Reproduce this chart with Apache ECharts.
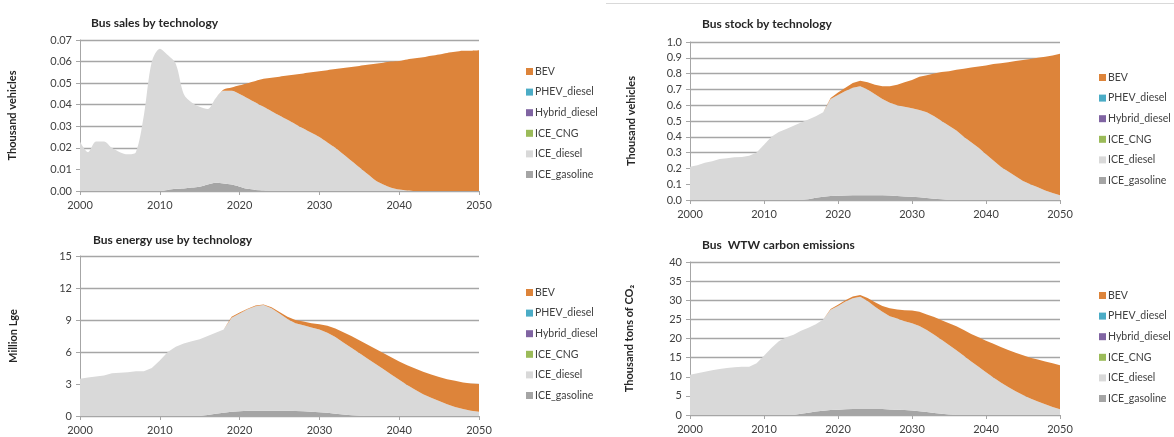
<!DOCTYPE html>
<html>
<head>
<meta charset="utf-8">
<script src="https://cdn.jsdelivr.net/npm/echarts@6/dist/echarts.min.js"></script>
<style>
  html, body { margin: 0; padding: 0; background: #fff; }
  #main { width: 1174px; height: 437px; }
</style>
</head>
<body>
<div id="main"></div>
<script>
const years = [];
for (let y = 2000; y <= 2050; y++) {
  years.push(String(y));
}

const techNames = ["BEV", "PHEV_diesel", "Hybrid_diesel", "ICE_CNG", "ICE_diesel", "ICE_gasoline"];

// Bus sales (thousand vehicles)
const salesGasoline = [0, 0, 0, 0, 0, 0, 0, 0, 0, 0, 0,
  0.0005, 0.001, 0.0012, 0.0016, 0.002, 0.003, 0.0038, 0.0035, 0.003, 0.002,
  0.001, 0.0005, 0.0002, 0, 0, 0, 0, 0, 0, 0,
  0, 0, 0, 0, 0, 0, 0, 0, 0, 0,
  0, 0, 0, 0, 0, 0, 0, 0, 0, 0];
const salesDiesel = [0.023, 0.018, 0.023, 0.023, 0.020, 0.018, 0.017, 0.018, 0.035, 0.060, 0.066,
  0.0625, 0.058, 0.0438, 0.0394, 0.037, 0.035, 0.0392, 0.043, 0.0435, 0.043,
  0.042, 0.0405, 0.0388, 0.037, 0.035, 0.033, 0.031, 0.029, 0.027, 0.025,
  0.0225, 0.020, 0.017, 0.014, 0.011, 0.008, 0.005, 0.003, 0.0015, 0.0007,
  0.0002, 0, 0, 0, 0, 0, 0, 0, 0, 0];
const salesBEV = [0, 0, 0, 0, 0, 0, 0, 0, 0, 0, 0,
  0, 0, 0, 0, 0, 0, 0, 0.0005, 0.0015, 0.004,
  0.007, 0.010, 0.013, 0.0155, 0.018, 0.0205, 0.023, 0.0255, 0.028, 0.0305,
  0.0335, 0.0365, 0.040, 0.0435, 0.047, 0.0505, 0.054, 0.0565, 0.0585, 0.0596,
  0.0608, 0.0615, 0.062, 0.0627, 0.0633, 0.064, 0.0645, 0.065, 0.065, 0.0652];

// Bus stock (thousand vehicles)
const stockGasoline = [0, 0, 0, 0, 0, 0, 0, 0, 0, 0, 0,
  0, 0, 0, 0, 0, 0.005, 0.015, 0.02, 0.025, 0.027,
  0.028, 0.03, 0.03, 0.03, 0.03, 0.03, 0.028, 0.025, 0.022, 0.02,
  0.017, 0.013, 0.008, 0.004, 0, 0, 0, 0, 0, 0,
  0, 0, 0, 0, 0, 0, 0, 0, 0, 0];
const stockDiesel = [0.21, 0.22, 0.235, 0.245, 0.26, 0.265, 0.27, 0.272, 0.28, 0.30, 0.35,
  0.40, 0.43, 0.45, 0.47, 0.49, 0.505, 0.515, 0.535, 0.615, 0.638,
  0.662, 0.68, 0.69, 0.67, 0.64, 0.61, 0.587, 0.575, 0.568, 0.56,
  0.553, 0.542, 0.522, 0.496, 0.47, 0.44, 0.40, 0.365, 0.33, 0.29,
  0.25, 0.21, 0.18, 0.15, 0.12, 0.10, 0.08, 0.06, 0.045, 0.03];
const stockBEV = [0, 0, 0, 0, 0, 0, 0, 0, 0, 0, 0,
  0, 0, 0, 0, 0, 0, 0, 0, 0.005, 0.015,
  0.02, 0.03, 0.035, 0.045, 0.06, 0.08, 0.105, 0.13, 0.155, 0.18,
  0.21, 0.235, 0.27, 0.31, 0.345, 0.385, 0.43, 0.473, 0.515, 0.562,
  0.61, 0.655, 0.692, 0.73, 0.766, 0.792, 0.82, 0.847, 0.87, 0.895];

// Bus energy use (million Lge)
const energyGasoline = [0, 0, 0, 0, 0, 0, 0, 0, 0, 0, 0,
  0, 0, 0, 0, 0, 0.1, 0.2, 0.3, 0.4, 0.45,
  0.5, 0.5, 0.5, 0.5, 0.5, 0.5, 0.48, 0.45, 0.4, 0.35,
  0.3, 0.22, 0.15, 0.08, 0.02, 0, 0, 0, 0, 0,
  0, 0, 0, 0, 0, 0, 0, 0, 0, 0];
const energyDiesel = [3.5, 3.6, 3.7, 3.8, 4.0, 4.05, 4.1, 4.2, 4.2, 4.5, 5.2,
  6.0, 6.5, 6.8, 7.0, 7.2, 7.4, 7.6, 7.8, 8.8, 9.15,
  9.5, 9.8, 9.9, 9.6, 9.1, 8.6, 8.22, 8.05, 7.9, 7.75,
  7.5, 7.18, 6.75, 6.32, 5.88, 5.4, 4.9, 4.4, 3.9, 3.4,
  2.9, 2.45, 2.05, 1.7, 1.4, 1.1, 0.85, 0.65, 0.5, 0.4];
const energyBEV = [0, 0, 0, 0, 0, 0, 0, 0, 0, 0, 0,
  0, 0, 0, 0, 0, 0, 0, 0, 0.1, 0.1,
  0.05, 0.05, 0.05, 0.1, 0.15, 0.2, 0.3, 0.35, 0.4, 0.5,
  0.65, 0.8, 0.95, 1.1, 1.2, 1.3, 1.4, 1.5, 1.6, 1.7,
  1.85, 2.0, 2.1, 2.2, 2.25, 2.35, 2.45, 2.5, 2.55, 2.6];

// Bus WTW carbon emissions (thousand tons CO2)
const emissionGasoline = [0, 0, 0, 0, 0, 0, 0, 0, 0, 0, 0,
  0, 0, 0, 0, 0.3, 0.6, 0.9, 1.1, 1.3, 1.4,
  1.5, 1.6, 1.6, 1.6, 1.6, 1.55, 1.45, 1.35, 1.3, 1.2,
  1.0, 0.8, 0.55, 0.3, 0.1, 0, 0, 0, 0, 0,
  0, 0, 0, 0, 0, 0, 0, 0, 0, 0];
const emissionDiesel = [10.5, 10.9, 11.3, 11.7, 12.0, 12.3, 12.5, 12.6, 12.6, 13.5, 15.5,
  17.5, 19.3, 20.3, 21.0, 21.7, 22.2, 22.8, 23.9, 26.2, 27.1,
  28.2, 28.9, 29.3, 28.2, 26.7, 25.45, 24.35, 23.85, 23.2, 22.8,
  22.3, 21.4, 20.45, 19.4, 18.2, 16.9, 15.5, 14.0, 12.6, 11.2,
  9.8, 8.5, 7.3, 6.2, 5.2, 4.3, 3.5, 2.8, 2.1, 1.5];
const emissionBEV = [0, 0, 0, 0, 0, 0, 0, 0, 0, 0, 0,
  0, 0, 0, 0, 0, 0, 0, 0, 0.2, 0.3,
  0.3, 0.5, 0.5, 0.8, 1.2, 1.5, 2.1, 2.4, 2.9, 3.3,
  3.7, 4.1, 4.6, 5.1, 5.7, 6.3, 6.7, 7.2, 7.7, 8.2,
  8.8, 9.3, 9.7, 10.1, 10.4, 10.7, 11.0, 11.2, 11.4, 11.5];

const colors = {
  BEV: "#dd843a",
  PHEV_diesel: "#4bacc6",
  Hybrid_diesel: "#8064a2",
  ICE_CNG: "#9bbb59",
  ICE_diesel: "#d9d9d9",
  ICE_gasoline: "#a5a5a5",
};

const font = "Lato, 'Open Sans', sans-serif";
const textColor = "#404040";

const panels = [
  {
    title: "Bus sales by technology", yName: "Thousand vehicles",
    grid: { left: 80, top: 40, width: 399, height: 151 }, nameGap: 62,
    max: 0.07, interval: 0.01, digits: 2, smooth: 0.3,
    titlePos: [86, 12], legendPos: [521, 61],
    data: { ICE_gasoline: salesGasoline, ICE_diesel: salesDiesel, BEV: salesBEV },
  },
  {
    title: "Bus stock by technology", yName: "Thousand vehicles",
    grid: { left: 690, top: 42, width: 370, height: 158 }, nameGap: 53,
    max: 1.0, interval: 0.1, digits: 1, smooth: false,
    titlePos: [697, 13], legendPos: [1094, 67],
    data: { ICE_gasoline: stockGasoline, ICE_diesel: stockDiesel, BEV: stockBEV },
  },
  {
    title: "Bus energy use by technology", yName: "Million Lge",
    grid: { left: 80, top: 256, width: 399, height: 160 }, nameGap: 61,
    max: 15, interval: 3, digits: 0, smooth: false,
    titlePos: [88, 229], legendPos: [521, 282],
    data: { ICE_gasoline: energyGasoline, ICE_diesel: energyDiesel, BEV: energyBEV },
  },
  {
    title: "Bus  WTW carbon emissions", yName: "Thousand tons of CO\u2082",
    grid: { left: 690, top: 262, width: 370, height: 153 }, nameGap: 55,
    max: 40, interval: 5, digits: 0, smooth: false,
    titlePos: [697, 234], legendPos: [1094, 285],
    data: { ICE_gasoline: emissionGasoline, ICE_diesel: emissionDiesel, BEV: emissionBEV },
  },
];

const stackOrder = ["ICE_gasoline", "ICE_diesel", "ICE_CNG", "Hybrid_diesel", "PHEV_diesel", "BEV"];

const option = {
  animation: false,
  backgroundColor: "#fff",
  title: [],
  legend: [],
  grid: [],
  xAxis: [],
  yAxis: [],
  series: [],
  graphic: [
    {
      type: "line",
      shape: { x1: 606, y1: 3.5, x2: 1174, y2: 3.5 },
      style: { stroke: "#d9d9d9", lineWidth: 1 },
    },
  ],
};

panels.forEach((p, i) => {
  option.title.push({
    text: p.title,
    left: p.titlePos[0],
    top: p.titlePos[1],
    textStyle: { fontFamily: font, fontSize: 12, fontWeight: "bold", color: "#262626" },
  });
  option.legend.push({
    data: techNames,
    orient: "vertical",
    left: p.legendPos[0],
    top: p.legendPos[1],
    icon: "rect",
    itemWidth: 7,
    itemHeight: 7,
    itemGap: 9.6,
    selectedMode: false,
    textStyle: { fontFamily: font, fontSize: 10.5, color: textColor, padding: [0, 0, 0, -3] },
  });
  option.grid.push(p.grid);
  option.xAxis.push({
    type: "category",
    gridIndex: i,
    data: years,
    boundaryGap: false,
    axisLine: { lineStyle: { color: "#a6a6a6", width: 1 } },
    axisTick: { interval: 9, length: 4, lineStyle: { color: "#a6a6a6" } },
    axisLabel: { interval: 9, margin: 9, fontFamily: font, fontSize: 11, color: textColor },
    splitLine: { show: false },
  });
  option.yAxis.push({
    type: "value",
    gridIndex: i,
    min: 0,
    max: p.max,
    interval: p.interval,
    name: p.yName,
    nameLocation: "middle",
    nameGap: p.nameGap,
    nameTextStyle: { fontFamily: font, fontSize: 11, fontWeight: "bold", color: "#262626" },
    axisLine: { show: true, lineStyle: { color: "#a6a6a6", width: 1 } },
    axisTick: { show: true, length: 4, lineStyle: { color: "#a6a6a6" } },
    axisLabel: {
      margin: 8,
      fontFamily: font,
      fontSize: 11,
      color: textColor,
      formatter: (v) => v.toFixed(p.digits),
    },
    splitLine: { lineStyle: { color: "#a6a6a6", width: 1.3 } },
  });
  stackOrder.forEach((name) => {
    option.series.push({
      name: name,
      type: "line",
      xAxisIndex: i,
      yAxisIndex: i,
      stack: "panel" + i,
      data: p.data[name] || [],
      smooth: p.smooth,
      showSymbol: false,
      symbol: "none",
      lineStyle: { width: 0 },
      areaStyle: { color: colors[name], opacity: 1 },
      itemStyle: { color: colors[name] },
    });
  });
});

const chart = echarts.init(document.getElementById("main"));
chart.setOption(option);
</script>
</body>
</html>
